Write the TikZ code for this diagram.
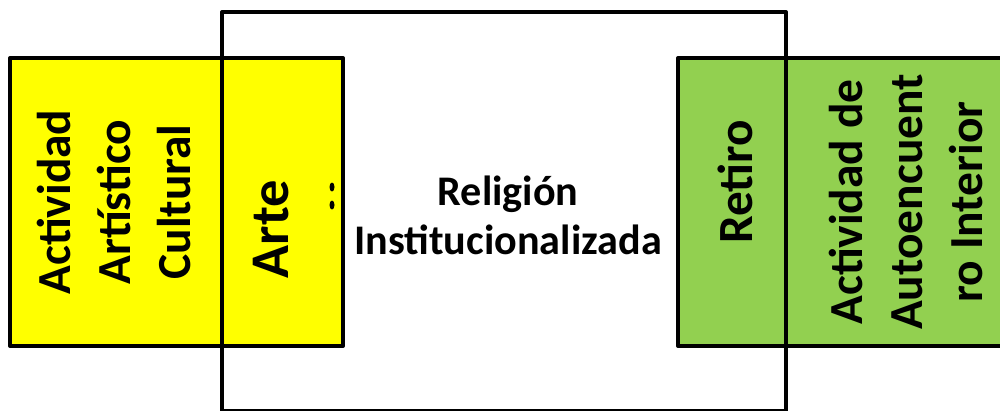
\documentclass[tikz,border=0pt]{standalone}
\usepackage{fontspec}
\setmainfont{Carlito}
\definecolor{artyellow}{HTML}{FFFF00}
\definecolor{retirogreen}{HTML}{92D050}
\tikzset{
  box/.style={line width=2.3pt, line join=round},
  vlabel/.style={rotate=90, align=center, font=\bfseries\fontsize{27}{34}\selectfont},
}
\begin{document}
\begin{tikzpicture}[x=0.02cm,y=-0.02cm]
\useasboundingbox (0,0) rectangle (1000,410);
\fill[white] (0,0) rectangle (1000,410);
\fill[white] (222,12) rectangle (786,411.5);
\fill[artyellow] (10,58) rectangle (343,346);
\fill[retirogreen] (678,58) rectangle (1010,346);
\draw[box] (10,58) rectangle (343,346);
\draw[box] (678,58) rectangle (1010,346);
\draw[box] (222,411.5) rectangle (786,12);
\fill[black] (332,187) ellipse (2.5 and 4.5);
\fill[black] (332,205) ellipse (2.5 and 4.5);
\node[vlabel] (cultural) at (114,202) {Actividad\\Artístico\\Cultural};
\node[vlabel, font=\bfseries\fontsize{31}{36}\selectfont] (arte) at (271,229) {Arte};
\node[align=center, font=\bfseries\fontsize{24}{28}\selectfont] (religion) at (508,215) {Religión\\Institucionalizada};
\node[vlabel, font=\bfseries\fontsize{28}{34}\selectfont] (retiro) at (735,182) {Retiro};
\node[vlabel] (interior) at (906,202) {Actividad de\\Autoencuent\\ro Interior};
\end{tikzpicture}
\end{document}
